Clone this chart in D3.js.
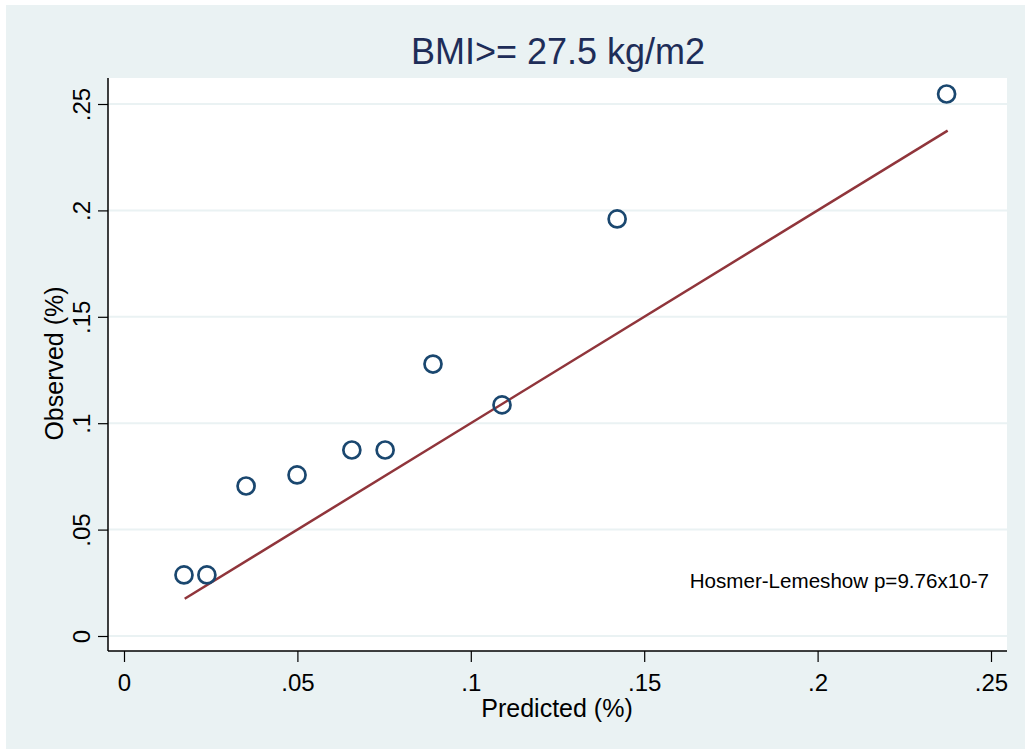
<!DOCTYPE html>
<html>
<head>
<meta charset="utf-8">
<script src="https://cdn.jsdelivr.net/npm/d3@7"></script>
<style>
  body { margin: 0; background: #ffffff; }
  svg { display: block; font-family: "Liberation Sans", Arial, sans-serif; }
</style>
</head>
<body>
<div id="chart"></div>
<script>
// calibration data
const predicted = [0.0173, 0.0239, 0.0352, 0.0499, 0.0657, 0.0753, 0.0891, 0.1090, 0.1422, 0.2372];
const observed  = [0.0287, 0.0287, 0.0705, 0.0757, 0.0874, 0.0874, 0.1278, 0.1086, 0.1960, 0.2547];
const lineX = [0.0175, 0.2375];   // y = x reference line over the predicted range
const xTicks = [0, 0.05, 0.1, 0.15, 0.2, 0.25];
const yTicks = [0, 0.05, 0.1, 0.15, 0.2, 0.25];
const titleText = "BMI>= 27.5 kg/m2";
const xTitle = "Predicted (%)";
const yTitle = "Observed (%)";
const note = "Hosmer-Lemeshow p=9.76x10-7";

const width = 1025, height = 749;
const plot = { left: 108, right: 1007, top: 78, bottom: 651 };

const fmt = d => d === 0 ? "0" : String(d).replace(/^0/, "");

const svg = d3.select("#chart").append("svg")
    .attr("width", width)
    .attr("height", height);

// outer graph region
svg.append("rect")
    .attr("x", 6).attr("y", 5)
    .attr("width", width - 6).attr("height", height - 5)
    .attr("fill", "#eaf2f3");

// plot region
svg.append("rect")
    .attr("x", plot.left).attr("y", plot.top)
    .attr("width", plot.right - plot.left).attr("height", plot.bottom - plot.top)
    .attr("fill", "#ffffff");

const x = d3.scaleLinear().domain([0, 0.25]).range([124, 991]);
const y = d3.scaleLinear().domain([0, 0.25]).range([636, 104]);

// gridlines
svg.append("g")
    .selectAll("line")
    .data(yTicks)
    .enter()
    .append("line")
    .attr("x1", plot.left).attr("x2", plot.right)
    .attr("y1", d => y(d)).attr("y2", d => y(d))
    .attr("stroke", "#eaf2f3")
    .attr("stroke-width", 2);

// y axis
const yAxis = svg.append("g")
    .attr("transform", `translate(${plot.left},0)`)
    .call(d3.axisLeft(y).tickValues(yTicks).tickFormat(fmt).tickSize(10).tickPadding(8));
yAxis.select(".domain").remove();
yAxis.append("line")
    .attr("x1", 0).attr("x2", 0)
    .attr("y1", plot.top).attr("y2", plot.bottom)
    .attr("stroke", "#000").attr("stroke-width", 1.5);
yAxis.selectAll(".tick line").attr("stroke", "#000").attr("stroke-width", 1.2);
yAxis.selectAll(".tick text")
    .attr("x", null).attr("dy", null)
    .attr("transform", "translate(-18,0) rotate(-90)")
    .attr("text-anchor", "middle")
    .style("font-size", "24px")
    .style("fill", "#000");

// x axis
const xAxis = svg.append("g")
    .attr("transform", `translate(0,${plot.bottom})`)
    .call(d3.axisBottom(x).tickValues(xTicks).tickFormat(fmt).tickSize(11).tickPadding(8));
xAxis.select(".domain").remove();
xAxis.append("line")
    .attr("x1", plot.left).attr("x2", plot.right)
    .attr("y1", 0).attr("y2", 0)
    .attr("stroke", "#000").attr("stroke-width", 1.5);
xAxis.selectAll(".tick line").attr("stroke", "#000").attr("stroke-width", 1.2);
xAxis.selectAll(".tick text")
    .attr("y", null).attr("dy", null)
    .attr("transform", "translate(0,40)")
    .style("font-size", "24px")
    .style("fill", "#000");

// reference line
svg.append("line")
    .attr("x1", x(lineX[0])).attr("y1", y(lineX[0]))
    .attr("x2", x(lineX[1])).attr("y2", y(lineX[1]))
    .attr("stroke", "#90353b")
    .attr("stroke-width", 2.5);

// points
svg.append("g")
    .selectAll("circle")
    .data(predicted.map((p, i) => ({ p, o: observed[i] })))
    .enter()
    .append("circle")
    .attr("cx", d => x(d.p))
    .attr("cy", d => y(d.o))
    .attr("r", 8.5)
    .attr("fill", "none")
    .attr("stroke", "#1a476f")
    .attr("stroke-width", 2.7);

// titles
svg.append("text")
    .attr("x", 558).attr("y", 64)
    .attr("text-anchor", "middle")
    .style("font-size", "36px")
    .style("fill", "#1e2d58")
    .text(titleText);

svg.append("text")
    .attr("x", 557).attr("y", 717)
    .attr("text-anchor", "middle")
    .style("font-size", "25px")
    .style("fill", "#000")
    .text(xTitle);

svg.append("text")
    .attr("transform", `translate(63,${(plot.top + plot.bottom) / 2 - 1}) rotate(-90)`)
    .attr("text-anchor", "middle")
    .style("font-size", "25px")
    .style("fill", "#000")
    .text(yTitle);

svg.append("text")
    .attr("x", 989).attr("y", 588)
    .attr("text-anchor", "end")
    .style("font-size", "20.6px")
    .style("fill", "#000")
    .text(note);
</script>
</body>
</html>
